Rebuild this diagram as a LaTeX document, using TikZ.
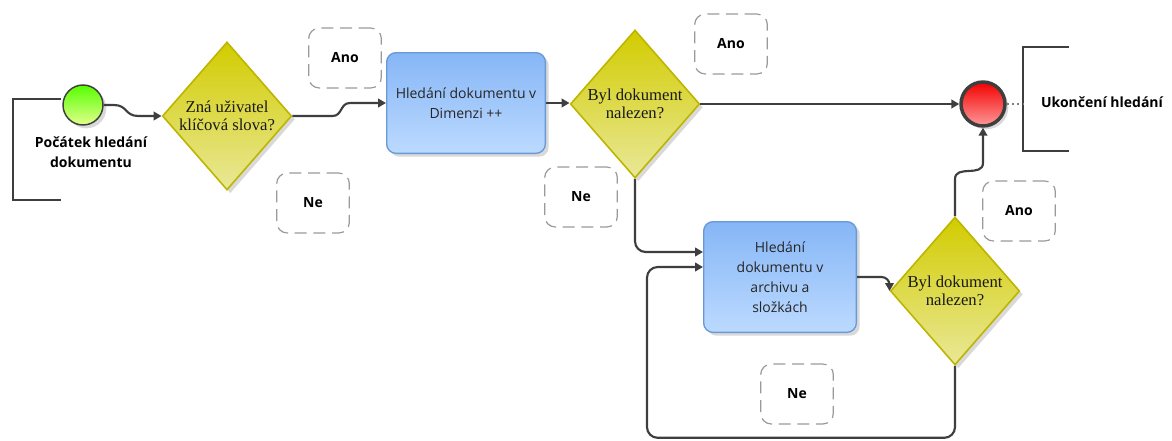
\documentclass[tikz,border=0pt]{standalone}
\usepackage{fontspec}
\setmainfont{Liberation Serif}
\newfontfamily\uisans{Open Sans}
\usetikzlibrary{shapes.geometric,shadows,arrows.meta,calc}

\definecolor{flowgray}{HTML}{3E3E3E}
\definecolor{gatetop}{HTML}{D2CC00}
\definecolor{gatebot}{HTML}{E9E898}
\definecolor{gateedge}{HTML}{BDB500}
\definecolor{tasktop}{HTML}{86B6F6}
\definecolor{taskbot}{HTML}{BCDAFF}
\definecolor{taskedge}{HTML}{6A99D8}
\definecolor{dashgray}{HTML}{9A9A9A}

\begin{document}
\begin{tikzpicture}[x=0.75pt,y=-0.75pt,
  shadowed/.style={drop shadow={opacity=0.3,shadow xshift=2.5pt,shadow yshift=-2.5pt}},
  gate/.style={diamond,shadowed,draw=gateedge,line width=1.2pt,
    top color=gatetop,bottom color=gatebot,inner sep=0pt,
    minimum width=97pt,minimum height=111pt,align=center,
    font=\fontsize{12.5}{13.5}\selectfont,text=black!90},
  task/.style={rectangle,rounded corners=7pt,shadowed,draw=taskedge,line width=1pt,
    top color=tasktop,bottom color=taskbot,align=center,
    font=\uisans\fontsize{10.5}{15}\selectfont,text=black!85},
  startev/.style={circle,shadowed,draw=flowgray,line width=1.1pt,
    top color=green!55!lime,bottom color=lime!45!white,minimum size=30pt,inner sep=0pt},
  endev/.style={circle,shadowed,draw=flowgray,line width=2.6pt,
    top color=red!95!black,bottom color=red!40!white,minimum size=33pt,inner sep=0pt},
  evlabel/.style={align=center,font=\uisans\bfseries\fontsize{10.5}{15}\selectfont,inner sep=0pt},
  note/.style={draw=dashgray,dash pattern=on 9pt off 5pt,rounded corners=8pt,line width=0.9pt,
    minimum width=54.5pt,minimum height=45pt,font=\uisans\bfseries\fontsize{10.5}{12}\selectfont},
  flow/.style={draw=flowgray,line width=1.6pt,-{Triangle[length=6pt,width=6.5pt]}},
  bracketline/.style={draw=flowgray,line width=1.4pt},
  assoc/.style={draw=gray,line width=0.8pt,dash pattern=on 1.5pt off 2.5pt}]
\useasboundingbox (0,0) rectangle (1172,440);

% events
\node[startev] (start) at (83,105) {};
\node[evlabel] (startlbl) at (91,152) {Počátek hledání\\dokumentu};
\node[endev] (end) at (983,104) {};
\node[evlabel] (endlbl) at (1102,102) {Ukončení hledání};

% annotation brackets
\draw[bracketline] (61,99) -- (13,99) -- (13,200) -- (61,200);
\coordinate (endbr) at (1023,104);
\draw[bracketline] (1069,47) -- (1023,47) -- (1023,151) -- (1069,151);
\draw[assoc] (end.east) -- (endbr);

% gateways and tasks
\node[gate] (d1) at (227,116) {Zná uživatel\\klíčová slova?};
\node[task,minimum width=119pt,minimum height=75.5pt] (t1) at (466,103) {Hledání dokumentu v\\Dimenzi ++};
\node[gate] (d2) at (635,104) {Byl dokument\\nalezen?};
\node[task,minimum width=114.5pt,minimum height=83pt] (t2) at (780,277) {Hledání\\dokumentu v\\archivu a\\složkách};
\node[gate] (d3) at (955,291) {Byl dokument\\nalezen?};

% condition labels
\node[note] (ano1) at (345,58) {Ano};
\node[note] (ne1) at (313,203) {Ne};
\node[note] (ano2) at (731,44) {Ano};
\node[note] (ne2) at (581,197) {Ne};
\node[note] (ano3) at (1019,211) {Ano};
\node[note] (ne3) at (797,394) {Ne};

% sequence flows
\draw[flow] (start.east) -- ($(start.east)+(10,0)$)
  .. controls ($(start.east)+(24,0)$) and ($(d1.west)+(-37,0)$) .. ($(d1.west)+(-23,0)$) -- (d1.west);
\draw[flow] (d1.east) -- ($(d1.east)+(40,0)$)
  .. controls ($(d1.east)+(50,0)$) and ($(t1.west)+(-46,0)$) .. ($(t1.west)+(-36,0)$) -- (t1.west);
\draw[flow] (t1.east) -- (t1.east -| d2.west);
\draw[flow] (d2.east) -- (d2.east -| end.west);
\draw[flow,rounded corners=8pt] (d2.south) |- ($(t2.west)+(0,-25)$);
\draw[flow,rounded corners=6pt] (t2.east) -| (d3.west);
\draw[flow,rounded corners=8pt] (d3.south) -- ($(d3.south)+(0,72)$) -| ($(t2.west)+(-56,-10)$) -- ($(t2.west)+(0,-10)$);
\draw[flow] (d3.north) -- ($(d3.north)+(0,-37)$)
  .. controls ($(d3.north)+(0,-52)$) and ($(end.south)+(0,50)$) .. ($(end.south)+(0,35)$) -- (end.south);
\end{tikzpicture}
\end{document}
